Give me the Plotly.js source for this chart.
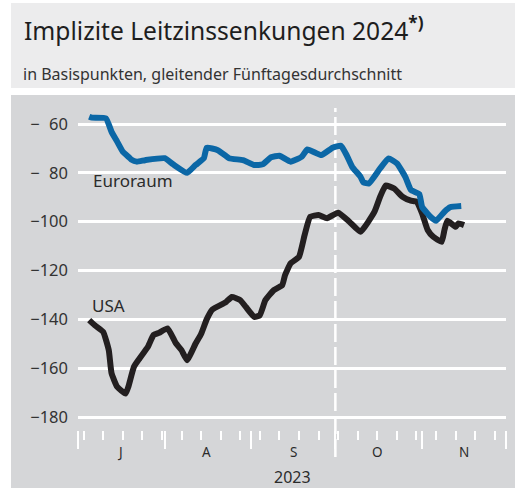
<!DOCTYPE html>
<html>
<head>
<meta charset="utf-8">
<script src="https://cdn.plot.ly/plotly-3.0.1.min.js"></script>
<style>
  html, body { margin: 0; padding: 0; background: #ffffff; }
  #wrap { position: relative; width: 515px; height: 488px; overflow: hidden; }
  #hdr { position: absolute; left: 11px; top: 3px; width: 504px; height: 85px; background: #ececed; }
  #pnl { position: absolute; left: 11px; top: 95px; width: 504px; height: 393px; background: #d5d6d8; }
  #chart { position: absolute; left: 0; top: 0; width: 515px; height: 488px; }
</style>
</head>
<body>
<div id="wrap">
  <div id="hdr"></div>
  <div id="pnl"></div>
  <div id="chart"></div>
</div>
<script>
// ---- data (basis points, 5-day moving average) ----
const euDates = ['2023-07-05','2023-07-06','2023-07-11','2023-07-13','2023-07-15','2023-07-17','2023-07-19','2023-07-20','2023-07-22','2023-07-25',
  '2023-08-01','2023-08-04','2023-08-09','2023-08-12','2023-08-15','2023-08-16','2023-08-20','2023-08-24','2023-08-29',
  '2023-09-02','2023-09-05','2023-09-08','2023-09-11','2023-09-15','2023-09-19','2023-09-21','2023-09-26','2023-09-30',
  '2023-10-03','2023-10-05','2023-10-07','2023-10-10','2023-10-11','2023-10-13','2023-10-17','2023-10-20','2023-10-23','2023-10-26','2023-10-28','2023-10-31',
  '2023-11-01','2023-11-04','2023-11-06','2023-11-09','2023-11-11','2023-11-15'];
const euVals = [-57,-57.4,-57.7,-63.2,-67.2,-71.3,-73.4,-74.5,-75.4,-74.8,
  -74,-76.5,-80,-76.8,-74,-69.7,-70.7,-74,-74.8,
  -76.8,-76.5,-73.6,-73,-75.4,-73.4,-70.4,-72.7,-69.7,
  -68.9,-72.7,-77.5,-81.6,-83.9,-84.3,-78.2,-74.1,-76.1,-81.6,-87,-88.7,
  -93.9,-98,-99.6,-95.9,-94.1,-93.6];

const usDates = ['2023-07-05','2023-07-07','2023-07-10','2023-07-12','2023-07-13','2023-07-15','2023-07-18','2023-07-19','2023-07-21','2023-07-23','2023-07-26','2023-07-28','2023-07-30',
  '2023-08-02','2023-08-05','2023-08-07','2023-08-09','2023-08-12','2023-08-14','2023-08-16','2023-08-18','2023-08-22','2023-08-23','2023-08-25','2023-08-28','2023-08-30',
  '2023-09-02','2023-09-04','2023-09-06','2023-09-09','2023-09-12','2023-09-13','2023-09-15','2023-09-18','2023-09-20','2023-09-22','2023-09-25','2023-09-28',
  '2023-10-02','2023-10-06','2023-10-10','2023-10-15','2023-10-17','2023-10-19','2023-10-22','2023-10-25','2023-10-28','2023-10-30',
  '2023-11-01','2023-11-03','2023-11-05','2023-11-08','2023-11-09','2023-11-10','2023-11-13','2023-11-14','2023-11-16'];
const usVals = [-140.3,-142.4,-145.1,-152.6,-162.1,-167.6,-170.4,-167.6,-159.4,-156,-151.2,-146.4,-145.5,
  -143.7,-149.8,-152.6,-156.7,-150,-146,-140,-136,-133.5,-132.8,-130.8,-132.1,-134.9,
  -139,-138.3,-132.1,-128,-126,-121.9,-117.1,-114.4,-105.5,-98,-97.3,-98.6,
  -96.3,-100,-104.1,-95.9,-89.8,-85.2,-86.4,-89.8,-91.4,-91.8,
  -96.6,-103.4,-106.2,-108.2,-103.4,-99.6,-102.1,-100.7,-101.4];

const monthStarts = ['2023-07-01','2023-08-01','2023-09-01','2023-10-01','2023-11-01','2023-12-01'];
const monthMids = ['2023-07-16','2023-08-16','2023-09-16','2023-10-16','2023-11-16'];
const monthLabels = ['J','A','S','O','N'];
const yearLabel = '2023';
const yTickVals = [-60,-80,-100,-120,-140,-160,-180];
const yTickText = ['\u2212\u200760','\u2212\u200780','\u2212100','\u2212120','\u2212140','\u2212160','\u2212180'];
const markerDate = '2023-10-01';

const FONT = '"Noto Sans", "Open Sans", sans-serif';
const TXT = '#2b2b2b';

const traces = [
  { x: usDates, y: usVals, type: 'scatter', mode: 'lines', name: 'USA',
    line: { color: '#231f20', width: 6, shape: 'spline', smoothing: 0.4 }, hoverinfo: 'skip' },
  { x: euDates, y: euVals, type: 'scatter', mode: 'lines', name: 'Euroraum',
    line: { color: '#0b67a6', width: 6, shape: 'spline', smoothing: 0.4 }, hoverinfo: 'skip' }
];

const annotations = [
  { text: 'in Basispunkten, gleitender Fünftagesdurchschnitt', xref: 'paper', yref: 'paper',
    x: -0.133, y: 1.092, xanchor: 'left', yanchor: 'middle', showarrow: false,
    font: { family: FONT, size: 16, color: '#333333' } },
  { text: 'Euroraum', xref: 'paper', yref: 'paper', x: 0.030, y: 0.764, xanchor: 'left', yanchor: 'middle',
    showarrow: false, font: { family: FONT, size: 17, color: TXT } },
  { text: 'USA', xref: 'paper', yref: 'paper', x: 0.028, y: 0.383, xanchor: 'left', yanchor: 'middle',
    showarrow: false, font: { family: FONT, size: 17, color: TXT } },
  { text: yearLabel, xref: 'paper', yref: 'paper', x: 0.5, y: -0.144, xanchor: 'center', yanchor: 'middle',
    showarrow: false, font: { family: FONT, size: 16, color: TXT } }
];
monthMids.forEach((m, i) => annotations.push({
  text: monthLabels[i], xref: 'x', yref: 'paper', x: m, y: -0.0675, xanchor: 'center', yanchor: 'middle',
  showarrow: false, font: { family: FONT, size: 13.5, color: TXT }
}));

const layout = {
  width: 515, height: 488,
  margin: { l: 78, r: 9, t: 104, b: 58 },
  paper_bgcolor: 'rgba(0,0,0,0)', plot_bgcolor: 'rgba(0,0,0,0)',
  showlegend: false,
  font: { family: FONT, color: TXT },
  title: { text: 'Implizite Leitzinssenkungen 2024<sup><b>*)</b></sup>', xref: 'container', yref: 'container',
    x: 24 / 515, xanchor: 'left', y: 1 - 31 / 488, yanchor: 'middle',
    font: { family: FONT, size: 24.6, color: '#1e1e1e' } },
  xaxis: {
    type: 'date', range: [monthStarts[0], monthStarts[monthStarts.length - 1]],
    tickmode: 'array', tickvals: monthStarts, showticklabels: false,
    ticks: 'outside', ticklen: 18, tickwidth: 2, tickcolor: '#ffffff',
    minor: { tickmode: 'linear', tick0: '2023-07-03', dtick: 7 * 86400000, ticks: 'outside',
      ticklen: 9, tickwidth: 2, tickcolor: '#ffffff', showgrid: false },
    showgrid: false, zeroline: false, showline: false, fixedrange: true
  },
  yaxis: {
    range: [-185.3, -51.8], tickmode: 'array', tickvals: yTickVals, ticktext: yTickText,
    ticks: '', ticklabelstandoff: 9,
    showgrid: true, gridcolor: '#ffffff', gridwidth: 3,
    zeroline: false, showline: false, fixedrange: true,
    tickfont: { family: FONT, size: 16.5, color: '#333333' }
  },
  shapes: [
    { type: 'line', xref: 'x', yref: 'paper', x0: markerDate, x1: markerDate, y0: -0.083, y1: 0.988,
      layer: 'below', line: { color: '#ffffff', width: 2.5, dash: '18px,5px' } }
  ],
  annotations: annotations
};

Plotly.newPlot('chart', traces, layout, { staticPlot: true, displayModeBar: false });
</script>
</body>
</html>
